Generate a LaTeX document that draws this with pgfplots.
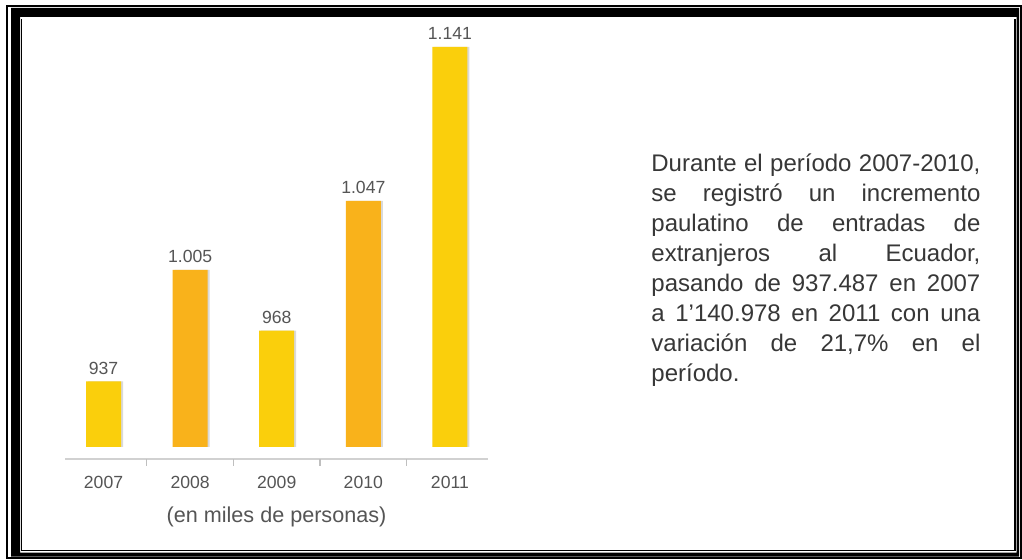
\documentclass[border=0pt]{standalone}
\usepackage{fontspec}
\setmainfont{Liberation Sans}
\usepackage{pgfplots}
\pgfplotsset{compat=1.18}
\definecolor{barY}{RGB}{250,207,12}
\definecolor{barO}{RGB}{249,178,27}
\definecolor{txt}{RGB}{55,55,55}
\definecolor{lbl}{RGB}{85,85,85}
\begin{document}
\begin{tikzpicture}[x=0.5pt,y=0.5pt]
\fill[white] (0,0) rectangle (1022,560);
% frame
\draw[line width=1pt] (7,554) rectangle (1021.2,1.7);
\fill[even odd rule] (11,552) rectangle (1019,3.3) (20,543) rectangle (1016.7,7.3);
\draw[line width=0.65pt] (21.5,541) -- (21.5,9.5) -- (1015,9.5) -- (1015,541);
\begin{axis}[
  at={(32.5pt,56.5pt)}, anchor=south west,
  scale only axis, width=211.5pt, height=215.7pt,
  xmin=-0.445, xmax=4.44, ymin=897, ymax=1160,
  axis y line=none, axis x line*=bottom, axis x line shift=6pt,
  x axis line style={draw=black!18, line width=1pt},
  xtick={0,1,2,3,4}, xticklabels={2007,2008,2009,2010,2011},
  major x tick style={draw=none},
  extra x ticks={0.5,1.5,2.5,3.5}, extra x tick labels={},
  extra x tick style={major tick length=3.5pt, tick align=outside, major x tick style={draw=black!25, line width=0.6pt}},
  xticklabel style={font=\fontsize{8.8}{10}\selectfont, text=lbl, yshift=-1pt},
  xlabel={(en miles de personas)},
  xlabel style={font=\fontsize{10.8}{12}\selectfont, text=lbl, yshift=5.5pt},
  ybar, bar width=17.5pt,
  every axis plot/.append style={preaction={fill=black, fill opacity=0.15, transform canvas={xshift=1pt}}},
  nodes near coords,
  every node near coord/.append style={font=\fontsize{8.8}{10}\selectfont, text=lbl},
  /pgf/number format/.cd, 1000 sep={.}, assume math mode=true,
]
\addplot[bar shift=0pt, fill=barY, draw=none] coordinates {(0,937) (2,968) (4,1141)};
\addplot[bar shift=0pt, fill=barO, draw=none] coordinates {(1,1005) (3,1047)};
\end{axis}
\node[anchor=base west, inner sep=0, text=txt, font=\fontsize{12}{15}\selectfont] at (651,388.5)
 {\parbox[t]{164.5pt}{\tolerance=9999\hbadness=10000\noindent
 Durante el período 2007-2010,\linebreak
 se registró un incremento\linebreak
 paulatino de entradas de\linebreak
 extranjeros al Ecuador,\linebreak
 pasando de 937.487 en 2007\linebreak
 a 1’140.978 en 2011 con una\linebreak
 variación de 21,7\% en el\linebreak
 período.}};
\pgfresetboundingbox
\useasboundingbox (0,0) rectangle (1022,560);
\end{tikzpicture}
\end{document}
